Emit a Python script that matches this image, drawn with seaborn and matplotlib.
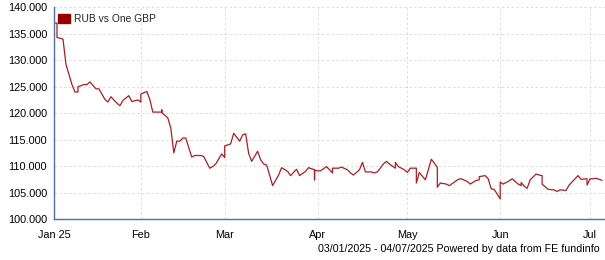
import matplotlib
matplotlib.use("Agg")
import matplotlib.pyplot as plt
import matplotlib.dates as mdates
from matplotlib.patches import Patch
import pandas as pd
import seaborn as sns

dates = [
    "2025-01-03", "2025-01-04", "2025-01-04", "2025-01-06", "2025-01-07", "2025-01-09",
    "2025-01-10", "2025-01-11", "2025-01-11", "2025-01-13", "2025-01-14", "2025-01-15",
    "2025-01-17", "2025-01-18", "2025-01-20", "2025-01-21", "2025-01-22", "2025-01-24",
    "2025-01-25", "2025-01-26", "2025-01-28", "2025-01-29", "2025-01-31", "2025-02-01",
    "2025-02-01", "2025-02-03", "2025-02-04", "2025-02-05", "2025-02-08", "2025-02-08",
    "2025-02-08", "2025-02-10", "2025-02-11", "2025-02-12", "2025-02-13", "2025-02-14",
    "2025-02-15", "2025-02-16", "2025-02-18", "2025-02-19", "2025-02-21", "2025-02-22",
    "2025-02-23", "2025-02-24", "2025-02-25", "2025-02-26", "2025-02-28", "2025-03-01",
    "2025-03-01", "2025-03-03", "2025-03-04", "2025-03-06", "2025-03-07", "2025-03-08",
    "2025-03-09", "2025-03-10", "2025-03-12", "2025-03-13", "2025-03-14", "2025-03-15",
    "2025-03-16", "2025-03-17", "2025-03-19", "2025-03-20", "2025-03-22", "2025-03-23",
    "2025-03-25", "2025-03-26", "2025-03-28", "2025-03-29", "2025-03-31", "2025-03-31",
    "2025-03-31", "2025-04-01", "2025-04-02", "2025-04-04", "2025-04-05", "2025-04-06",
    "2025-04-06", "2025-04-08", "2025-04-09", "2025-04-11", "2025-04-12", "2025-04-13",
    "2025-04-15", "2025-04-16", "2025-04-17", "2025-04-19", "2025-04-20", "2025-04-21",
    "2025-04-23", "2025-04-24", "2025-04-25", "2025-04-27", "2025-04-27", "2025-04-28",
    "2025-04-30", "2025-05-01", "2025-05-02", "2025-05-04", "2025-05-04", "2025-05-05",
    "2025-05-07", "2025-05-08", "2025-05-09", "2025-05-11", "2025-05-11", "2025-05-12",
    "2025-05-14", "2025-05-15", "2025-05-17", "2025-05-18", "2025-05-19", "2025-05-21",
    "2025-05-22", "2025-05-24", "2025-05-25", "2025-05-25", "2025-05-27", "2025-05-28",
    "2025-05-29", "2025-05-30", "2025-06-01", "2025-06-01", "2025-06-02", "2025-06-04",
    "2025-06-05", "2025-06-07", "2025-06-08", "2025-06-08", "2025-06-09", "2025-06-10",
    "2025-06-11", "2025-06-13", "2025-06-14", "2025-06-15", "2025-06-15", "2025-06-17",
    "2025-06-19", "2025-06-20", "2025-06-21", "2025-06-23", "2025-06-24", "2025-06-25",
    "2025-06-27", "2025-06-28", "2025-06-30", "2025-06-30", "2025-07-01", "2025-07-02",
    "2025-07-03", "2025-07-05",
]
rub_per_gbp = [
    137.0, 137.0, 134.3, 134.0, 129.2, 125.4,
    124.0, 124.0, 125.0, 125.4, 125.4, 125.9,
    124.6, 124.6, 122.6, 122.1, 123.1, 121.9,
    121.4, 122.4, 123.3, 122.2, 122.5, 122.1,
    123.6, 124.1, 122.6, 120.2, 120.2, 120.6,
    120.1, 119.1, 117.2, 112.5, 114.7, 114.7,
    115.3, 115.3, 111.7, 112.0, 112.0, 111.8,
    110.7, 109.6, 109.9, 110.4, 112.3, 111.6,
    113.8, 114.2, 116.2, 114.7, 115.9, 116.1,
    112.4, 110.9, 112.8, 111.2, 110.4, 110.2,
    108.3, 106.3, 108.3, 109.7, 109.0, 108.2,
    109.4, 108.2, 109.0, 109.7, 109.3, 107.4,
    109.2, 109.1, 109.1, 109.9, 109.3, 108.7,
    109.6, 109.6, 109.8, 109.3, 108.7, 108.3,
    109.3, 110.7, 108.9, 108.9, 108.7, 108.9,
    110.4, 110.9, 110.4, 109.6, 110.7, 109.9,
    109.3, 108.8, 109.6, 109.6, 106.8, 108.8,
    107.4, 109.3, 111.3, 109.8, 106.0, 106.8,
    106.6, 106.3, 107.1, 107.5, 107.6, 107.1,
    106.6, 107.3, 107.4, 108.0, 108.2, 107.6,
    105.7, 105.6, 103.8, 107.0, 106.6, 107.2,
    107.6, 106.6, 106.3, 106.9, 106.2, 105.8,
    107.4, 108.5, 108.3, 108.2, 106.6, 105.6,
    105.5, 105.2, 105.5, 105.4, 106.4, 107.0,
    108.2, 107.5, 107.6, 106.4, 107.6, 107.6,
    107.7, 107.3,
]
tick_dates = ["2025-01-03", "2025-02-01", "2025-03-01", "2025-04-01",
              "2025-05-01", "2025-06-01", "2025-07-01"]
tick_labels = ["Jan 25", "Feb", "Mar", "Apr", "May", "Jun", "Jul"]
y_ticks = [100, 105, 110, 115, 120, 125, 130, 135, 140]
series_name = "RUB vs One GBP"
footer = "03/01/2025 - 04/07/2025 Powered by data from FE fundinfo"

sns.set_style("white")
plt.rcParams["font.family"] = ["Liberation Sans", "DejaVu Sans"]

df = pd.DataFrame({"date": pd.to_datetime(dates), "value": rub_per_gbp})

fig = plt.figure(figsize=(6.05, 2.60), dpi=100)
ax = fig.add_axes([54 / 605, 41 / 260, 551 / 605, 211.7 / 260])

sns.lineplot(data=df, x="date", y="value", ax=ax, estimator=None, sort=False,
             color="#b01c24", linewidth=0.9)

ax.set_ylim(100, 140)
ax.set_xlim(pd.Timestamp("2025-01-03"), pd.Timestamp("2025-07-06"))
ax.set_yticks(y_ticks)
ax.set_yticklabels([f"{v:.3f}" for v in y_ticks])
ax.set_xticks(pd.to_datetime(tick_dates))
ax.set_xticklabels(tick_labels)
ax.set_xlabel("")
ax.set_ylabel("")

ax.grid(True, color="#dcdcdc", linestyle=(0, (2.5, 2.5)), linewidth=0.7)
ax.set_axisbelow(True)
for s in ["top", "right"]:
    ax.spines[s].set_visible(False)
for s in ["left", "bottom"]:
    ax.spines[s].set_visible(True)
    ax.spines[s].set_color("#4a72a6")
    ax.spines[s].set_linewidth(1.0)

ax.tick_params(axis="both", which="major", direction="out", length=3, width=0.8,
               color="#222222", labelsize=7.8, labelcolor="#000000", pad=2)
ax.tick_params(axis="x", pad=5)

handle = Patch(facecolor="#990000", edgecolor="#990000", label=series_name)
ax.legend(handles=[handle], loc="upper left", bbox_to_anchor=(0.008, 0.968),
          frameon=False, fontsize=7.4, handlelength=1.1, handleheight=1.0,
          handletextpad=0.45, borderpad=0, borderaxespad=0)

fig.text(600 / 605, 1 - 249 / 260, footer, ha="right", va="center", fontsize=7.7,
         color="#000000")

fig.savefig("out.png", dpi=100)
